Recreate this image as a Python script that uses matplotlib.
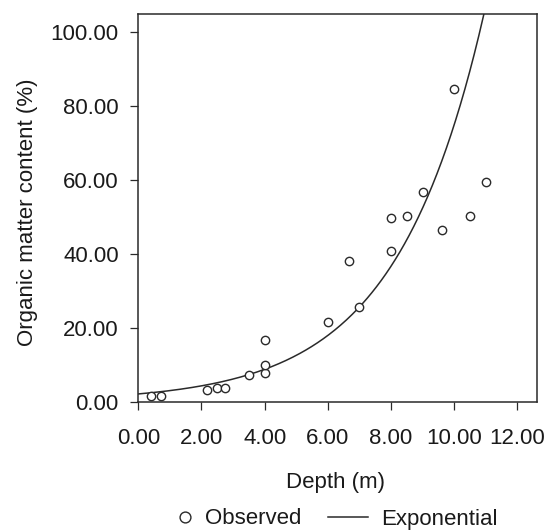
import numpy as np
import matplotlib
matplotlib.use("Agg")
import matplotlib.pyplot as plt
from matplotlib.legend_handler import HandlerLine2D

# Observed data
depth_m = [0.40, 0.72, 2.16, 2.49, 2.75, 3.49, 4.00, 4.00, 4.00, 6.00,
           6.68, 7.00, 8.00, 8.00, 8.50, 9.00, 9.60, 10.00, 10.50, 11.00]
organic_pct = [1.5, 1.5, 3.1, 3.6, 3.6, 7.1, 7.7, 10.0, 16.7, 21.6,
               38.1, 25.7, 40.9, 49.8, 50.3, 56.7, 46.5, 84.6, 50.3, 59.4]

# Fitted exponential model: y = a * exp(b * x)
exp_a = 2.1
exp_b = 0.3576
fit_range = (0.0, 11.0)

x_ticks = [0, 2, 4, 6, 8, 10, 12]
y_ticks = [0, 20, 40, 60, 80, 100]

plt.rcParams['font.family'] = ['Liberation Sans', 'DejaVu Sans']
TXT = '#1a1a1a'
EDGE = '#2a2a2a'

fig = plt.figure(figsize=(5.44, 5.32), dpi=100)
W, H = 544, 532
ax = fig.add_axes([138.3 / W, 1 - 401.7 / H, (537.3 - 138.3) / W, (401.7 - 14) / H])

obs, = ax.plot(depth_m, organic_pct, linestyle='none', marker='o', ms=6.0,
               mfc='white', mec=EDGE, mew=1.0, label='Observed', zorder=3)
xf = np.linspace(fit_range[0], fit_range[1], 300)
fit, = ax.plot(xf, exp_a * np.exp(exp_b * xf), color=EDGE, lw=1.1,
               label='Exponential', zorder=2)

ax.set_xlim(0, 12.63)
ax.set_ylim(0, 105)
ax.set_xticks(x_ticks)
ax.set_yticks(y_ticks)
ax.set_xticklabels([f"{v:.2f}" for v in x_ticks])
ax.set_yticklabels([f"{v:.2f}" for v in y_ticks])

for s in ax.spines.values():
    s.set_color(EDGE)
    s.set_linewidth(1.1)

ax.tick_params(axis='both', direction='out', length=6, width=0.9, color=EDGE,
               labelsize=16, labelcolor=TXT)
ax.tick_params(axis='x', pad=13)
ax.tick_params(axis='y', pad=8)

ax.set_xlabel('Depth (m)', fontsize=16, color=TXT)
ax.xaxis.set_label_coords(0.495, -0.1826)
ax.set_ylabel('Organic matter content (%)', fontsize=16, color=TXT)
ax.yaxis.set_label_coords(-0.251, 0.488)

leg = fig.legend(handles=[obs, fit], loc='center', ncol=2,
                 bbox_to_anchor=(325 / W, 1 - 519 / H), frameon=False,
                 fontsize=16, handlelength=1.8, handletextpad=0.6,
                 columnspacing=1.2, markerscale=1.3,
                 handler_map={obs: HandlerLine2D(numpoints=1, xpad=1.22)})
for t in leg.get_texts():
    t.set_color(TXT)

fig.savefig('out.png', dpi=100)
